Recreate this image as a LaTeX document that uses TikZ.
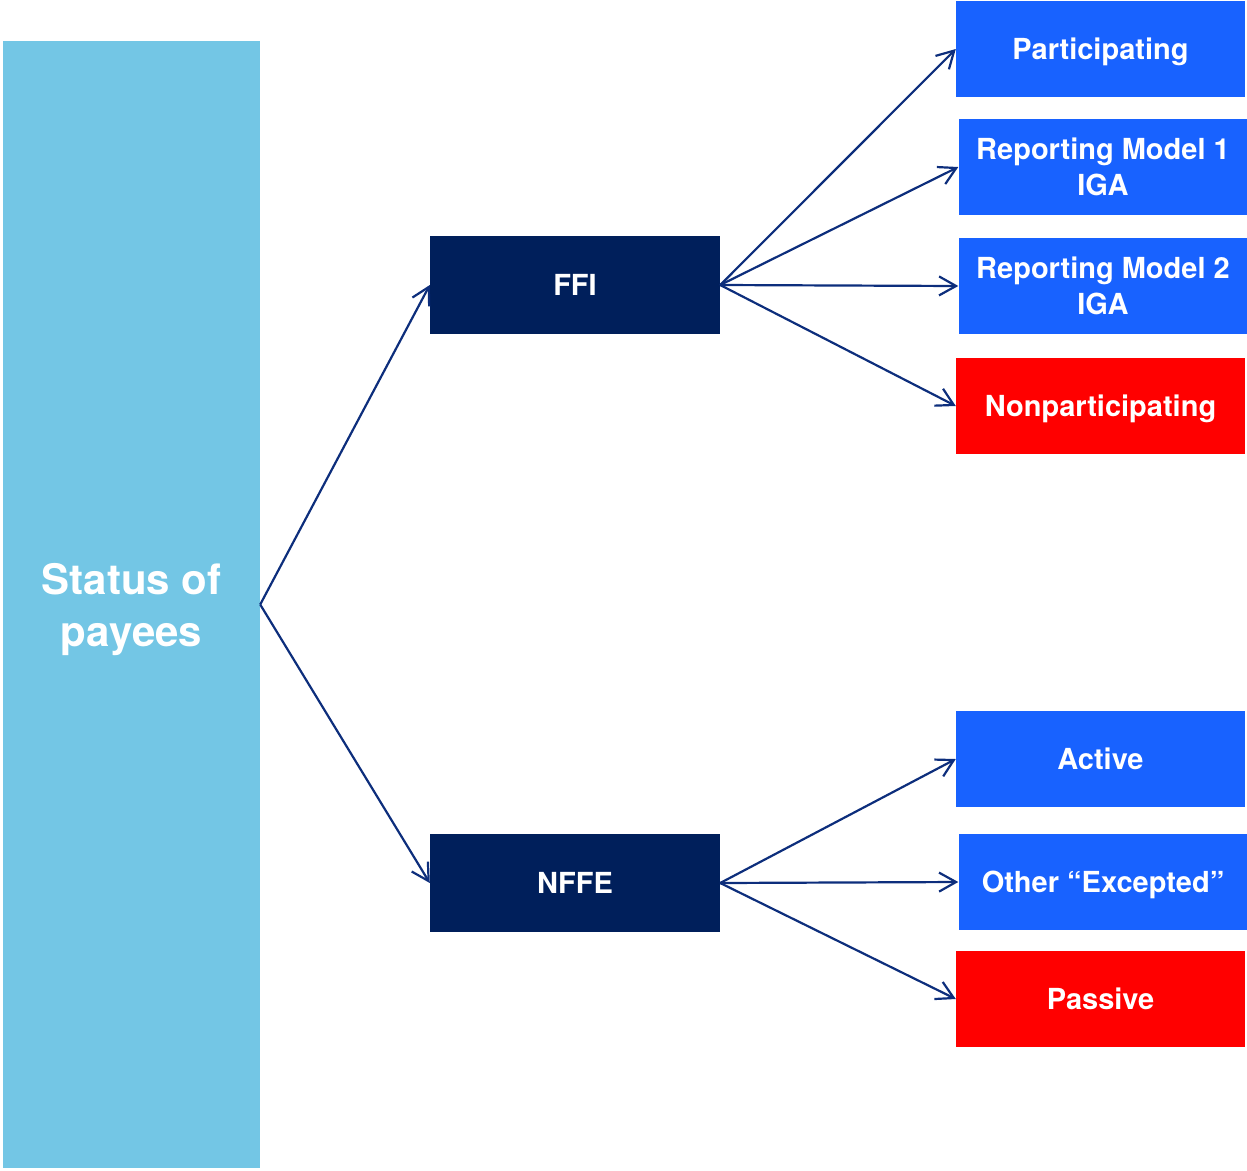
\documentclass[tikz,border=0pt]{standalone}
\usepackage{fontspec}
\setmainfont{TeX Gyre Heros}
\usetikzlibrary{arrows.meta}
\definecolor{skyblue}{HTML}{73C6E5}
\definecolor{navybox}{HTML}{001F5B}
\definecolor{brightblue}{HTML}{1862FF}
\definecolor{alertred}{HTML}{FF0000}
\definecolor{linkblue}{HTML}{0D2E7C}
\begin{document}
\begin{tikzpicture}[x=1pt,y=-1pt,
  box/.style={rectangle, inner sep=0pt, minimum width=289pt, minimum height=96pt,
    text depth=0pt, text=white, font=\fontsize{29}{36}\selectfont\bfseries, align=center},
  leaf/.style={box, fill=brightblue},
  badleaf/.style={box, fill=alertred},
  mid/.style={box, fill=navybox, minimum width=290pt, minimum height=98pt},
  link/.style={draw=linkblue, line width=2.2pt,
    -{Straight Barb[length=17pt,width=19pt,line width=2.2pt]}}]
\useasboundingbox (0,0) rectangle (1247,1170);

% root column
\node[rectangle, inner sep=0pt, fill=skyblue, minimum width=257pt, minimum height=1127pt,
  text depth=0pt, text=white, font=\fontsize{42}{52}\selectfont\bfseries, align=center]
  (root) at (131.5,604.5) {Status of\\payees};

% middle level
\node[mid] (ffi) at (575,285) {FFI};
\node[mid] (nffe) at (575,883) {NFFE};

% FFI categories
\node[leaf] (part) at (1100.5,49) {Participating};
\node[leaf] (rm1) at (1103,167) {Reporting Model 1\\IGA};
\node[leaf] (rm2) at (1103,286) {Reporting Model 2\\IGA};
\node[badleaf] (nonpart) at (1100.5,406) {Nonparticipating};

% NFFE categories
\node[leaf] (active) at (1100.5,759) {Active};
\node[leaf] (other) at (1103,882) {Other “Excepted”};
\node[badleaf] (passive) at (1100.5,999) {Passive};

% connectors
\draw[link] (root.east) -- (ffi.west);
\draw[link] (root.east) -- (nffe.west);
\draw[link] (ffi.east) -- (part.west);
\draw[link] (ffi.east) -- (rm1.west);
\draw[link] (ffi.east) -- (rm2.west);
\draw[link] (ffi.east) -- (nonpart.west);
\draw[link] (nffe.east) -- (active.west);
\draw[link] (nffe.east) -- (other.west);
\draw[link] (nffe.east) -- (passive.west);
\end{tikzpicture}
\end{document}
